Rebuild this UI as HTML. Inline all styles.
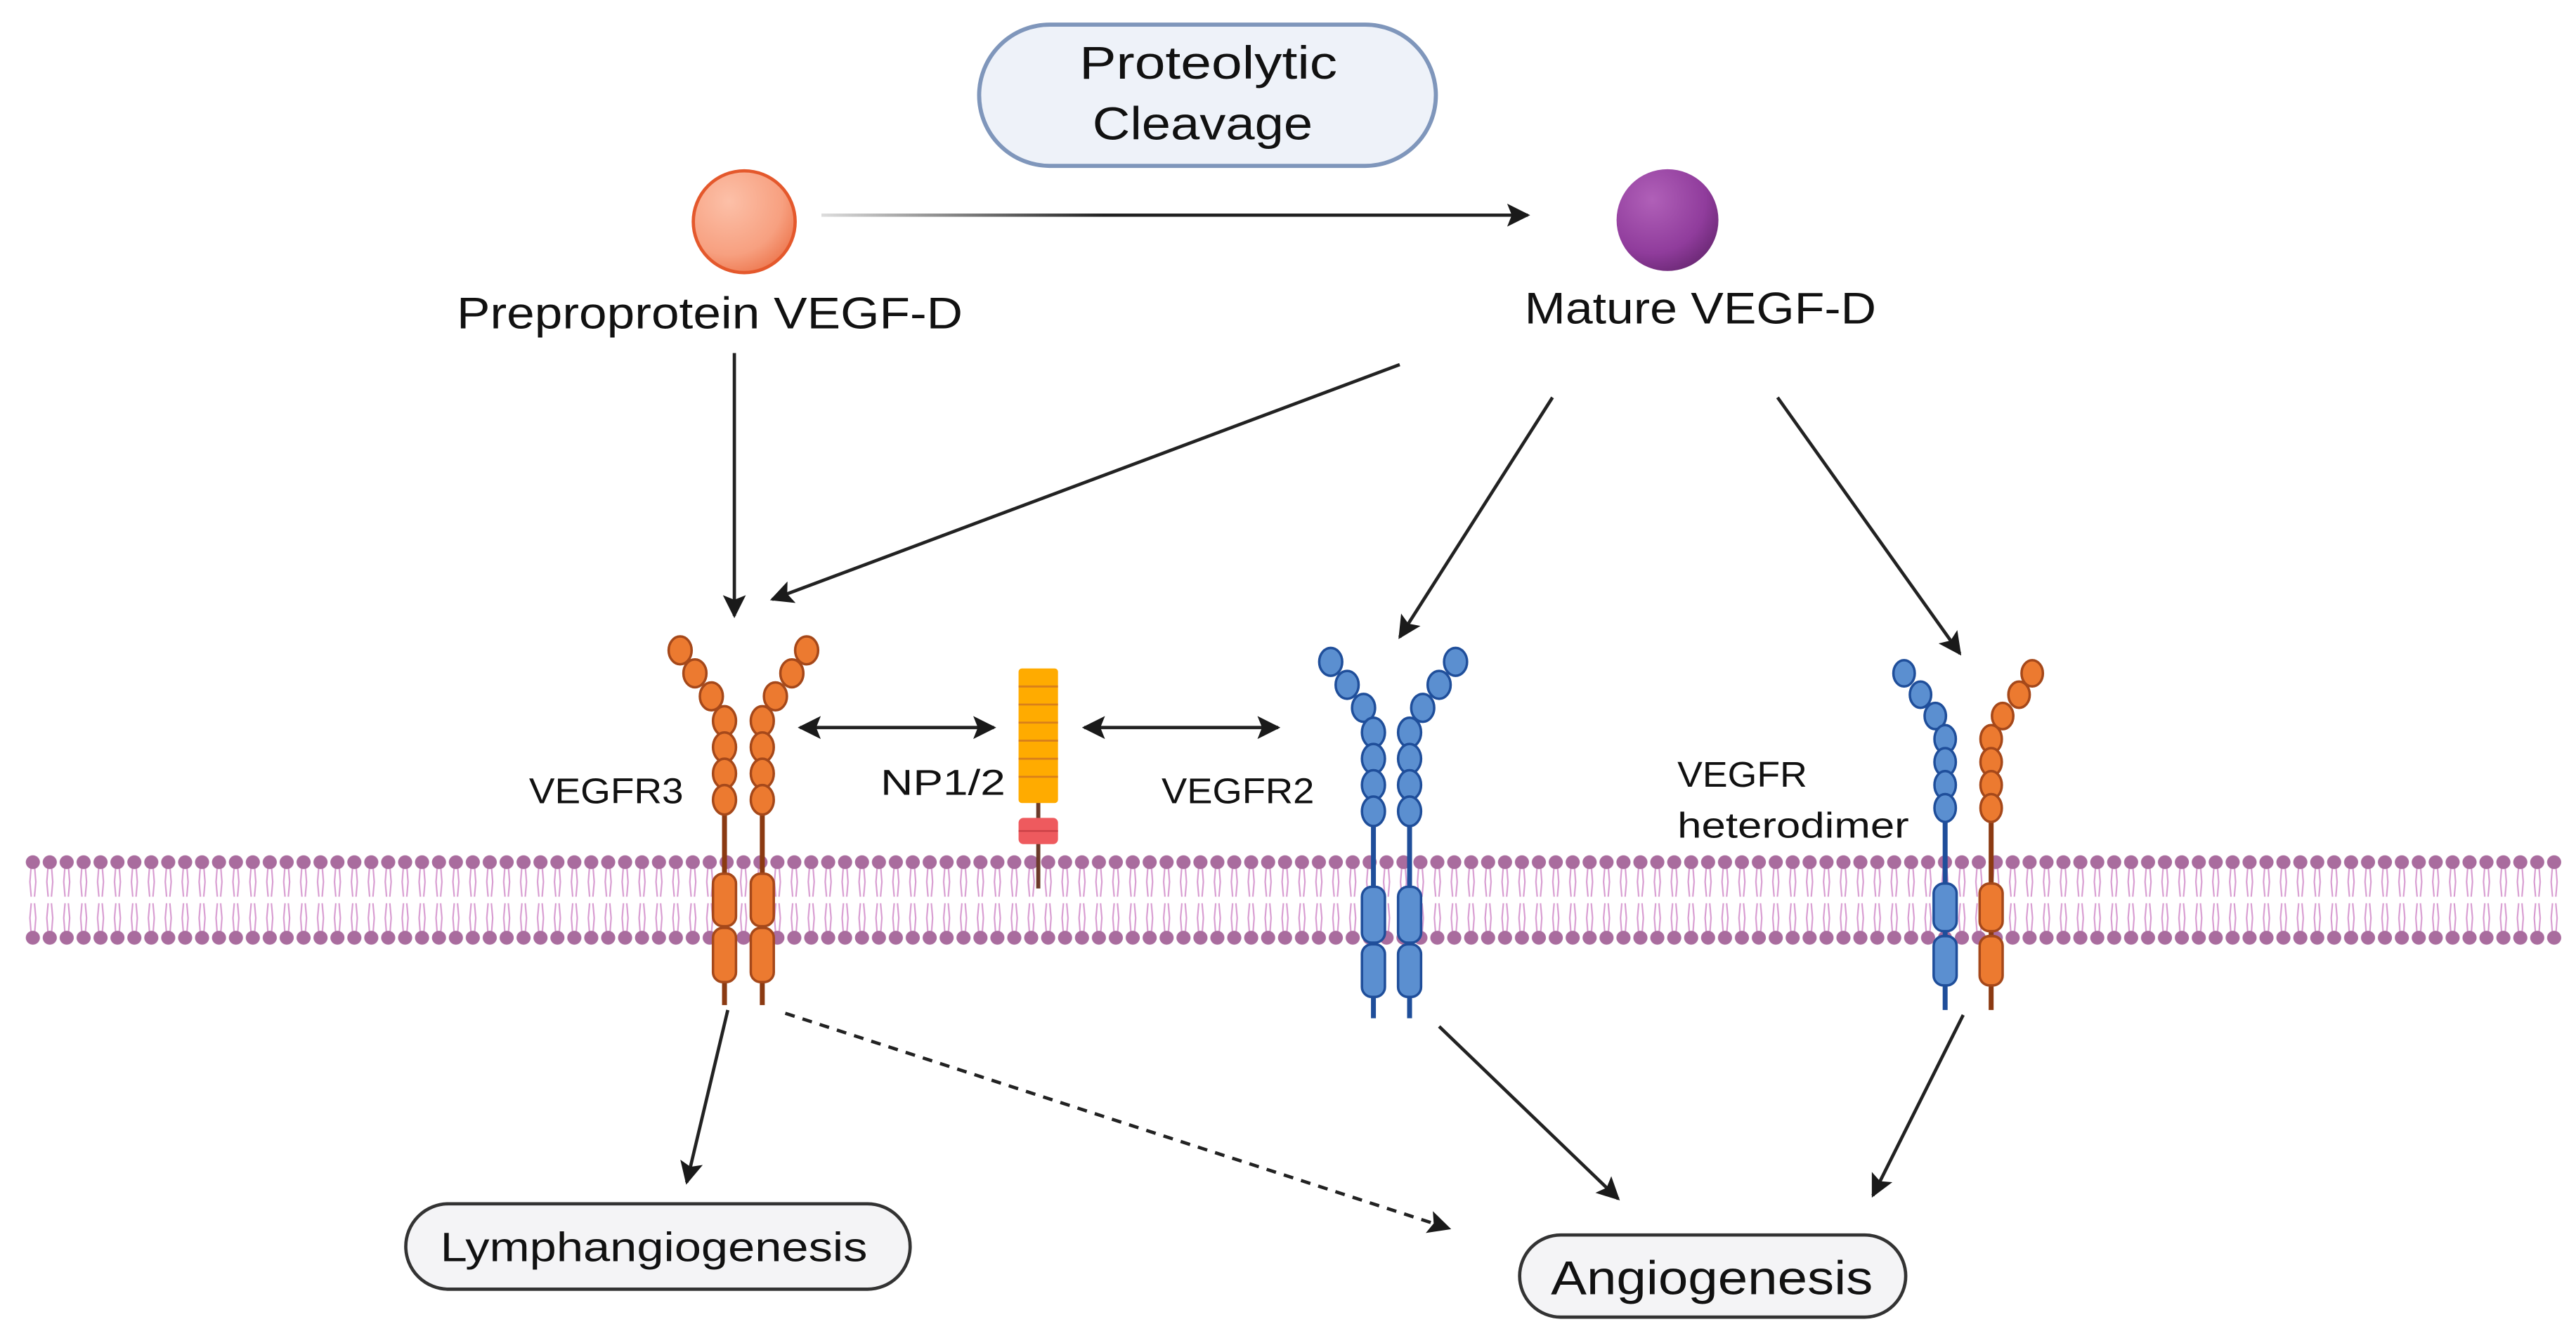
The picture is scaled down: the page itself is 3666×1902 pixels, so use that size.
<!DOCTYPE html>
<html><head><meta charset="utf-8"><style>
html,body{margin:0;padding:0;background:#fff;}
svg{display:block;}
text{font-family:"Liberation Sans",sans-serif;fill:#111;}
</style></head><body>
<svg width="3666" height="1902" viewBox="0 0 1568 813.5" preserveAspectRatio="none" xmlns="http://www.w3.org/2000/svg">
<defs>
<marker id="ah" viewBox="0 0 10 10" refX="9" refY="5" markerWidth="7" markerHeight="7" orient="auto-start-reverse" markerUnits="strokeWidth">
<path d="M0,0 L10,5 L0,10 L2,5 z" fill="#1a1a1a"/></marker>
<linearGradient id="gl" gradientUnits="userSpaceOnUse" x1="500" y1="0" x2="930" y2="0"><stop offset="0" stop-color="#ddd"/><stop offset="0.4" stop-color="#222"/><stop offset="1" stop-color="#222"/></linearGradient>
<radialGradient id="gp" cx="0.35" cy="0.3" r="0.75"><stop offset="0" stop-color="#fcc0a8"/><stop offset="0.7" stop-color="#f7a080"/><stop offset="1" stop-color="#ee7a52"/></radialGradient>
<radialGradient id="gv" cx="0.35" cy="0.3" r="0.75"><stop offset="0" stop-color="#b060b8"/><stop offset="0.7" stop-color="#903c9c"/><stop offset="1" stop-color="#6e2a78"/></radialGradient>
<pattern id="mem" patternUnits="userSpaceOnUse" x="15" y="0" width="10.3" height="813.5">
<g stroke="#d79ad0" stroke-width="0.9" fill="none">
<path d="M4,527 L3.2,537 L4,546 M6,527 L6.8,537 L6,546"/>
<path d="M4,569 L3.2,559 L4,550 M6,569 L6.8,559 L6,550"/>
</g>
<ellipse cx="5" cy="525" rx="4.3" ry="4.2" fill="#a96c9e"/>
<ellipse cx="5" cy="571" rx="4.3" ry="4.2" fill="#a96c9e"/>
</pattern>
</defs>

<rect x="15" y="518" width="1545" height="60" fill="url(#mem)"/>

<rect x="596" y="15" width="278" height="86" rx="43" fill="#eef2f9" stroke="#7f96bb" stroke-width="2.5"/>
<text x="657" y="48" font-size="28" textLength="157" lengthAdjust="spacingAndGlyphs">Proteolytic</text>
<text x="665" y="85" font-size="28" textLength="134" lengthAdjust="spacingAndGlyphs">Cleavage</text>

<circle cx="453" cy="135" r="31" fill="url(#gp)" stroke="#e4582c" stroke-width="2"/>
<circle cx="1015" cy="134" r="31" fill="url(#gv)"/>
<text x="278" y="200" font-size="27" textLength="308" lengthAdjust="spacingAndGlyphs">Preproprotein VEGF-D</text>
<text x="928" y="197" font-size="27" textLength="214" lengthAdjust="spacingAndGlyphs">Mature VEGF-D</text>

<g stroke="#222" stroke-width="2" fill="none">
<line x1="500" y1="131" x2="930" y2="131" stroke="url(#gl)" marker-end="url(#ah)"/>
<line x1="447" y1="215" x2="447" y2="375" marker-end="url(#ah)"/>
<line x1="852" y1="222" x2="470" y2="365" marker-end="url(#ah)"/>
<line x1="945" y1="242" x2="852" y2="388" marker-end="url(#ah)"/>
<line x1="1082" y1="242" x2="1193" y2="398" marker-end="url(#ah)"/>
<line x1="487" y1="443" x2="605" y2="443" marker-start="url(#ah)" marker-end="url(#ah)"/>
<line x1="660" y1="443" x2="778" y2="443" marker-start="url(#ah)" marker-end="url(#ah)"/>
<line x1="443" y1="615" x2="418" y2="720" marker-end="url(#ah)"/>
<line x1="478" y1="617" x2="882" y2="748" stroke-dasharray="6,5" marker-end="url(#ah)"/>
<line x1="876" y1="625" x2="985" y2="730" marker-end="url(#ah)"/>
<line x1="1195" y1="618" x2="1140" y2="728" marker-end="url(#ah)"/>
</g>

<text x="322" y="489" font-size="22" textLength="94" lengthAdjust="spacingAndGlyphs">VEGFR3</text>
<text x="536" y="484" font-size="22" textLength="76" lengthAdjust="spacingAndGlyphs">NP1/2</text>
<text x="707" y="489" font-size="22" textLength="93" lengthAdjust="spacingAndGlyphs">VEGFR2</text>
<text x="1021" y="479" font-size="22" textLength="79" lengthAdjust="spacingAndGlyphs">VEGFR</text>
<text x="1021" y="510" font-size="22" textLength="141" lengthAdjust="spacingAndGlyphs">heterodimer</text>

<g fill="#ec7a30" stroke="#a5481a" stroke-width="1.5">
<line x1="441" y1="487" x2="441" y2="612" stroke="#8b3a12" stroke-width="3"/>
<line x1="464" y1="487" x2="464" y2="612" stroke="#8b3a12" stroke-width="3"/>
<rect x="434" y="532" width="14" height="32" rx="6"/><rect x="434" y="565" width="14" height="33" rx="6"/>
<rect x="457" y="532" width="14" height="32" rx="6"/><rect x="457" y="565" width="14" height="33" rx="6"/>
<ellipse cx="414" cy="396" rx="7" ry="8.5"/><ellipse cx="423" cy="410" rx="7" ry="8.5"/><ellipse cx="433" cy="424" rx="7" ry="8.5"/>
<ellipse cx="441" cy="439" rx="7" ry="9"/><ellipse cx="441" cy="455" rx="7" ry="9"/><ellipse cx="441" cy="471" rx="7" ry="9"/><ellipse cx="441" cy="487" rx="7" ry="9"/>
<ellipse cx="491" cy="396" rx="7" ry="8.5"/><ellipse cx="482" cy="410" rx="7" ry="8.5"/><ellipse cx="472" cy="424" rx="7" ry="8.5"/>
<ellipse cx="464" cy="439" rx="7" ry="9"/><ellipse cx="464" cy="455" rx="7" ry="9"/><ellipse cx="464" cy="471" rx="7" ry="9"/><ellipse cx="464" cy="487" rx="7" ry="9"/>
</g>

<line x1="632" y1="488" x2="632" y2="541" stroke="#6b3a2a" stroke-width="2.5"/>
<rect x="620" y="407" width="24" height="82" rx="2" fill="#ffab00"/>
<g stroke="#d9801a" stroke-width="1.2">
<line x1="620" y1="418" x2="644" y2="418"/><line x1="620" y1="429" x2="644" y2="429"/><line x1="620" y1="440" x2="644" y2="440"/>
<line x1="620" y1="451" x2="644" y2="451"/><line x1="620" y1="462" x2="644" y2="462"/><line x1="620" y1="473" x2="644" y2="473"/>
</g>
<rect x="620" y="498" width="24" height="16" rx="3" fill="#ee5a5e"/>
<line x1="620" y1="506" x2="644" y2="506" stroke="#c94046" stroke-width="1"/>

<g fill="#5b8fd0" stroke="#1f4e9a" stroke-width="1.5">
<line x1="836" y1="494" x2="836" y2="620" stroke="#1f4e9a" stroke-width="3"/>
<line x1="858" y1="494" x2="858" y2="620" stroke="#1f4e9a" stroke-width="3"/>
<rect x="829" y="540" width="14" height="34" rx="6"/><rect x="829" y="575" width="14" height="32" rx="6"/>
<rect x="851" y="540" width="14" height="34" rx="6"/><rect x="851" y="575" width="14" height="32" rx="6"/>
<ellipse cx="810" cy="403" rx="7" ry="8.5"/><ellipse cx="820" cy="417" rx="7" ry="8.5"/><ellipse cx="830" cy="431" rx="7" ry="8.5"/>
<ellipse cx="836" cy="446" rx="7" ry="9"/><ellipse cx="836" cy="462" rx="7" ry="9"/><ellipse cx="836" cy="478" rx="7" ry="9"/><ellipse cx="836" cy="494" rx="7" ry="9"/>
<ellipse cx="886" cy="403" rx="7" ry="8.5"/><ellipse cx="876" cy="417" rx="7" ry="8.5"/><ellipse cx="866" cy="431" rx="7" ry="8.5"/>
<ellipse cx="858" cy="446" rx="7" ry="9"/><ellipse cx="858" cy="462" rx="7" ry="9"/><ellipse cx="858" cy="478" rx="7" ry="9"/><ellipse cx="858" cy="494" rx="7" ry="9"/>
</g>

<g fill="#5b8fd0" stroke="#1f4e9a" stroke-width="1.5">
<line x1="1184" y1="492" x2="1184" y2="615" stroke="#1f4e9a" stroke-width="3"/>
<rect x="1177" y="538" width="14" height="29" rx="6"/><rect x="1177" y="570" width="14" height="30" rx="6"/>
<ellipse cx="1159" cy="410" rx="6.5" ry="8"/><ellipse cx="1169" cy="423" rx="6.5" ry="8"/><ellipse cx="1178" cy="436" rx="6.5" ry="8"/>
<ellipse cx="1184" cy="450" rx="6.5" ry="8.5"/><ellipse cx="1184" cy="464" rx="6.5" ry="8.5"/><ellipse cx="1184" cy="478" rx="6.5" ry="8.5"/><ellipse cx="1184" cy="492" rx="6.5" ry="8.5"/>
</g>
<g fill="#ec7a30" stroke="#a5481a" stroke-width="1.5">
<line x1="1212" y1="492" x2="1212" y2="615" stroke="#8b3a12" stroke-width="3"/>
<rect x="1205" y="538" width="14" height="29" rx="6"/><rect x="1205" y="570" width="14" height="30" rx="6"/>
<ellipse cx="1237" cy="410" rx="6.5" ry="8"/><ellipse cx="1229" cy="423" rx="6.5" ry="8"/><ellipse cx="1219" cy="436" rx="6.5" ry="8"/>
<ellipse cx="1212" cy="450" rx="6.5" ry="8.5"/><ellipse cx="1212" cy="464" rx="6.5" ry="8.5"/><ellipse cx="1212" cy="478" rx="6.5" ry="8.5"/><ellipse cx="1212" cy="492" rx="6.5" ry="8.5"/>
</g>

<rect x="247" y="733" width="307" height="52" rx="26" fill="#f4f4f6" stroke="#333" stroke-width="2"/>
<text x="268" y="768" font-size="25" textLength="260" lengthAdjust="spacingAndGlyphs">Lymphangiogenesis</text>
<rect x="925" y="752" width="235" height="50" rx="25" fill="#f4f4f6" stroke="#333" stroke-width="2"/>
<text x="944" y="788" font-size="29" textLength="196" lengthAdjust="spacingAndGlyphs">Angiogenesis</text>
</svg>
</body></html>
